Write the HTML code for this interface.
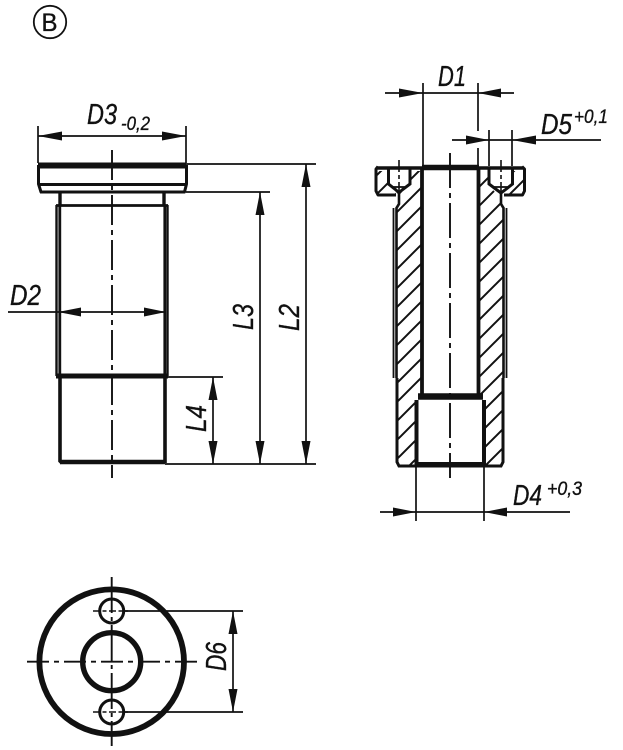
<!DOCTYPE html>
<html><head><meta charset="utf-8"><style>
html,body{margin:0;padding:0;background:#fff}
svg{display:block}
text{font-family:"Liberation Sans",sans-serif;fill:#111;font-style:italic;stroke:#111;stroke-width:.35px}
</style></head><body>
<svg width="623" height="750" viewBox="0 0 623 750" xmlns="http://www.w3.org/2000/svg">
<defs>
<pattern id="h" width="19" height="19" patternUnits="userSpaceOnUse" patternTransform="translate(1,0)">
<path d="M-2 21L21 -2" stroke="#111" stroke-width="2" fill="none"/>
<path d="M-2 2L2 -2M17 21L21 17" stroke="#111" stroke-width="2" fill="none"/>
</pattern>
</defs>
<rect width="623" height="750" fill="#fff"/>

<!-- B marker -->
<circle cx="50" cy="22" r="16.2" fill="none" stroke="#111" stroke-width="1.8"/>
<text x="41.5" y="31" font-size="25" style="font-style:normal" textLength="16" lengthAdjust="spacingAndGlyphs">B</text>

<!-- LEFT VIEW -->
<g fill="none" stroke="#111">
<path d="M112 150V478" stroke-width="1.9" stroke-dasharray="30 5 5 5"/>
<g stroke-width="1.7">
<path d="M38 126V163M186 126V163M38 136H186"/>
<path d="M186 164H316M186 192H270M167 377H223M165 464H316"/>
<path d="M306 164V464M260 192V464M213 377V464"/>
<path d="M8 312H166"/>
</g>
<!-- flange -->
<path d="M38 165.500H186" stroke-width="6"/>
<path d="M38.500 165V184L41 192H184.500L186.500 184V165" stroke-width="3" stroke-linejoin="round"/>
<path d="M39 184.500H186" stroke-width="3"/>
<path d="M40 192H185" stroke-width="3"/>
<!-- neck -->
<path d="M60 192V206M164 192V206" stroke-width="3.400"/>
<path d="M56 205.500H168" stroke-width="2.800"/>
<path d="M56.500 205V376M167.500 205V376" stroke-width="2.400"/>
<path d="M59.800 205V376M164.800 205V376" stroke-width="2.800"/>
<path d="M56 376H168" stroke-width="5"/>
<!-- lower -->
<path d="M60 376V461L62 463M165 376V463" stroke-width="3.600"/>
<path d="M60 462H165" stroke-width="4.500"/>
</g>
<g fill="#111">
<path d="M38 136L62 131.500V140.500ZM186 136L162 131.500V140.500Z"/>
<path d="M306 164L301.500 187H310.500ZM306 464L301.500 441H310.500Z"/>
<path d="M260 192L255.500 215H264.500ZM260 464L255.500 441H264.500Z"/>
<path d="M213 377L208.500 400H217.500ZM213 464L208.500 441H217.500Z"/>
<path d="M58 312L81 307.500V316.500ZM166 312L144 307.500V316.500Z"/>
</g>
<text x="87" y="124" font-size="29" textLength="30" lengthAdjust="spacingAndGlyphs">D3</text>
<text x="121" y="130" font-size="19" textLength="29" lengthAdjust="spacingAndGlyphs">-0,2</text>
<text x="10" y="305" font-size="29" textLength="31" lengthAdjust="spacingAndGlyphs">D2</text>
<text transform="translate(253,330) rotate(-90)" font-size="29" textLength="26" lengthAdjust="spacingAndGlyphs">L3</text>
<text transform="translate(299,331) rotate(-90)" font-size="29" textLength="27" lengthAdjust="spacingAndGlyphs">L2</text>
<text transform="translate(206,432) rotate(-90)" font-size="29" textLength="27" lengthAdjust="spacingAndGlyphs">L4</text>

<!-- SECTION VIEW -->
<g fill="url(#h)" stroke="none">
<path d="M376 171H388V185L396 193V196H378L376 190Z"/>
<path d="M410 171H421V394L416 400V465H397V208L396 196H402V193L410 185Z"/>
<path d="M480 171H488V185L496 193H501V208L503 208V465H484V400L480 394Z"/>
<path d="M513 171H524V191L522 195H505V193Z"/>
</g>
<g fill="none" stroke="#111">
<path d="M450 153V478" stroke-width="1.900" stroke-dasharray="35 5 5 5"/>
<path d="M399 160V194M501 160V194" stroke-width="1.600" stroke-dasharray="12 3 4 3"/>
<g stroke-width="1.700">
<path d="M385 93H514M452 140H601M380 512H570"/>
<path d="M423 83V166M478 83V131M478 148V166M489 130V166M512 130V166"/>
<path d="M416 466V521M484 466V521"/>
</g>
<path d="M422 167.500H479" stroke-width="5.500"/>
<path d="M377 168H422M479 168H523" stroke-width="3.500"/>
<path d="M378 166.500L376 169V191L378 195H396M522 166.500L524.500 169V191L522.500 195H504" stroke-width="3" stroke-linejoin="round"/>
<path d="M388.500 167V184L396 190L399 193L402 190L410 184V167" stroke-width="3"/>
<path d="M392 187H407" stroke-width="1.800"/>
<path d="M489 167V184L497 190L501 193L505 190L512.500 184V167" stroke-width="3"/>
<path d="M493 187H509" stroke-width="1.800"/>
<path d="M399 193V204L396.500 208V378M501 193V204L503.500 208V378" stroke-width="2.600"/>
<path d="M393.500 208V378M506.500 208V378" stroke-width="1.800"/>
<path d="M397 378V462L399 466H501L503 462V378" stroke-width="3"/>
<path d="M422 168V394M478.500 168V394" stroke-width="3.800"/>
<path d="M418 396.500H483" stroke-width="6.500"/>
<path d="M416.500 400V465M484 400V465" stroke-width="4"/>
<path d="M415 464.500H485.500" stroke-width="5"/>
<path d="M399 466H501" stroke-width="3"/>
</g>
<g fill="#111">
<path d="M423 93L399 88.500V97.500ZM478 93L501 88.500V97.500Z"/>
<path d="M489 140L466 135.500V144.500ZM512 140L536 135.500V144.500Z"/>
<path d="M416 512L393 507.500V516.500ZM484 512L507 507.500V516.500Z"/>
</g>
<text x="438" y="86" font-size="29" textLength="28" lengthAdjust="spacingAndGlyphs">D1</text>
<text x="541" y="134" font-size="29" textLength="31" lengthAdjust="spacingAndGlyphs">D5</text>
<text x="574" y="123" font-size="19" textLength="34" lengthAdjust="spacingAndGlyphs">+0,1</text>
<text x="513" y="505" font-size="29" textLength="29" lengthAdjust="spacingAndGlyphs">D4</text>
<text x="547" y="495" font-size="19" textLength="35" lengthAdjust="spacingAndGlyphs">+0,3</text>

<!-- BOTTOM VIEW -->
<g fill="none" stroke="#111">
<circle cx="111.700" cy="661.700" r="72.300" stroke-width="5.800"/>
<circle cx="111.700" cy="661.700" r="29" stroke-width="5.400"/>
<circle cx="111.700" cy="611" r="12" stroke-width="3"/>
<circle cx="111.700" cy="712" r="12" stroke-width="3"/>
<path d="M27 661.700H197" stroke-width="1.900" stroke-dasharray="22 5 5 5"/>
<path d="M111.700 577V746" stroke-width="1.900" stroke-dasharray="36 4 4 4"/>
<path d="M93 611H128M93 712H128" stroke-width="1.600" stroke-dasharray="7 2.500 4 2.500"/>
<path d="M124 611H243M124 712H243M233 611V712" stroke-width="1.700"/>
</g>
<path d="M233 611L228.500 634H237.500ZM233 712L228.500 689H237.500Z" fill="#111"/>
<text transform="translate(226,671) rotate(-90)" font-size="29" textLength="29" lengthAdjust="spacingAndGlyphs">D6</text>
</svg>
</body></html>
